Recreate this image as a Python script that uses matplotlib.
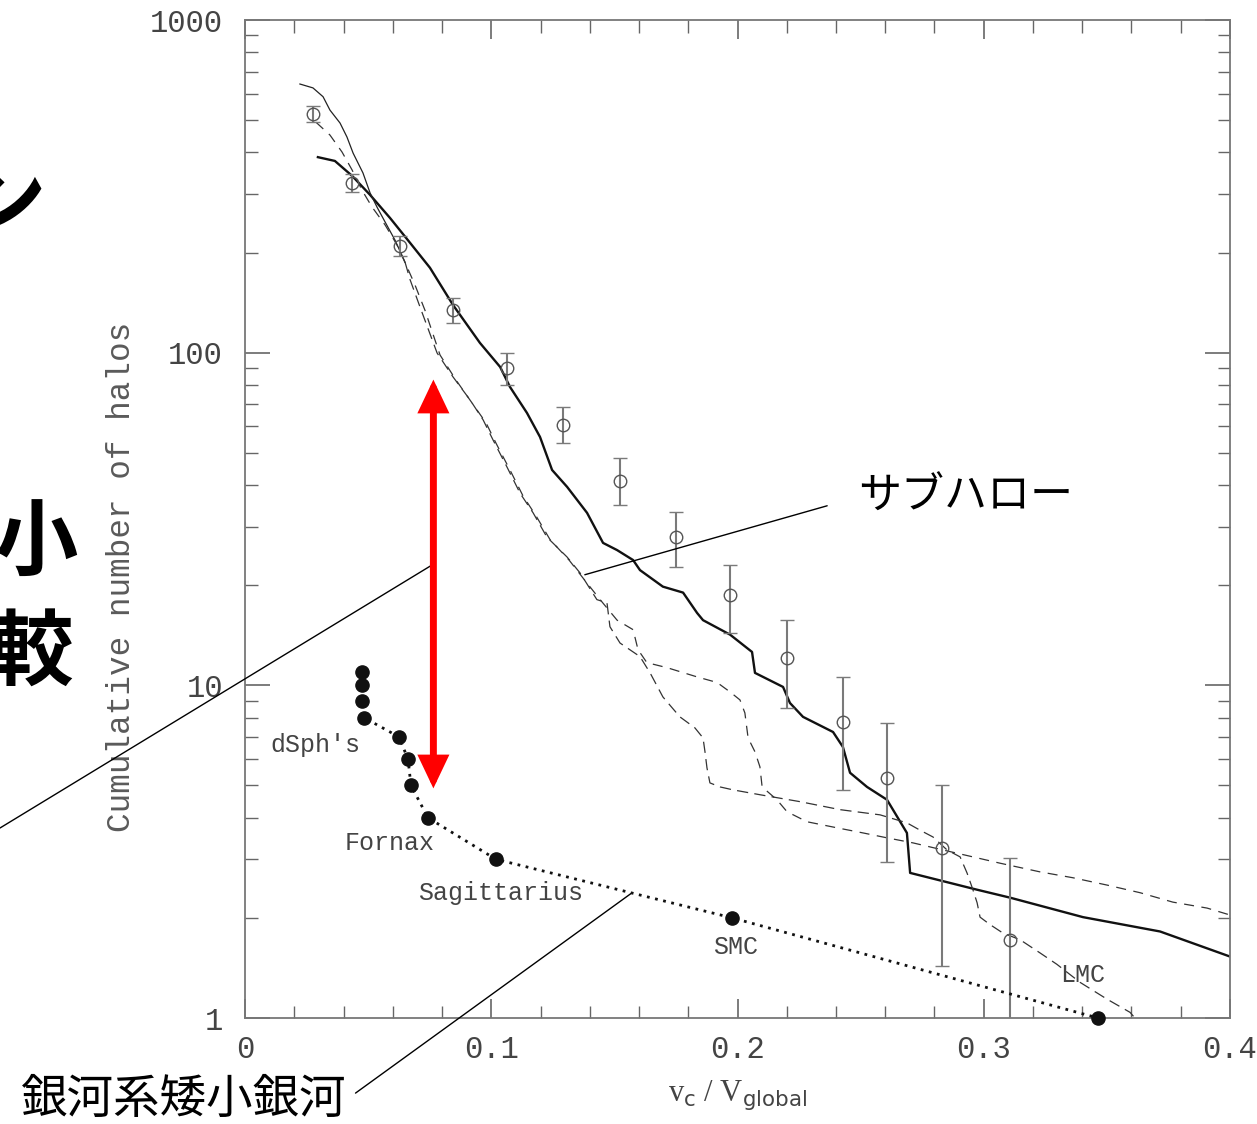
"""
Cumulative number of subhalos vs v_c / V_global, with Milky Way dwarf satellites.
"""

import matplotlib

matplotlib.use("Agg")
import matplotlib.pyplot as plt
from matplotlib.ticker import FixedLocator, MultipleLocator, NullFormatter

plt.rcParams["font.family"] = ["Noto Sans CJK JP", "DejaVu Sans"]

# ---- data ---------------------------------------------------------------
# thick solid curve
thick_x = [0.0296, 0.0365, 0.0435, 0.0508, 0.0589, 0.0670, 0.0751, 0.0845,
           0.0954, 0.1036, 0.1076, 0.1145, 0.1198, 0.1247, 0.1308, 0.1389,
           0.1454, 0.1511, 0.1576, 0.1604, 0.1697, 0.1779, 0.1836, 0.1860,
           0.1970, 0.2059, 0.2071, 0.2185, 0.2213, 0.2266, 0.2388, 0.2428,
           0.2457, 0.2526, 0.2607, 0.2688, 0.2701, 0.2973, 0.3107, 0.3403,
           0.3716, 0.4000]
thick_n = [387, 377, 340, 298, 254, 214, 180, 139,
           107, 90.6, 78.9, 65.9, 55.8, 44.4, 39.5, 33.0,
           26.8, 25.5, 23.8, 22.2, 19.8, 19.0, 16.5, 15.7,
           14.2, 12.6, 10.9, 9.89, 8.85, 8.04, 7.24, 6.53,
           5.46, 4.95, 4.53, 3.60, 2.73, 2.43, 2.30, 2.01,
           1.82, 1.53]

# curve A (thin on top, dashed below)
curve_a_x = [0.0223, 0.0276, 0.0317, 0.0345, 0.0386, 0.0414, 0.0439, 0.0479,
             0.0508, 0.0536, 0.0569, 0.0609, 0.0650, 0.0670, 0.0711, 0.0780,
             0.0845, 0.0914, 0.0967, 0.1007, 0.1064, 0.1117, 0.1170, 0.1226,
             0.1308, 0.1360, 0.1429, 0.1470, 0.1482, 0.1523, 0.1604, 0.1645,
             0.1697, 0.1766, 0.1827, 0.1860, 0.1868, 0.1876, 0.1888, 0.1929,
             0.1982, 0.2091, 0.2254, 0.2416, 0.2579, 0.2688, 0.2741, 0.2794,
             0.2851, 0.2904, 0.2932, 0.2956, 0.2973, 0.2985, 0.3025, 0.3078,
             0.3147, 0.3228, 0.3297, 0.3391, 0.3500, 0.3594, 0.3614]
curve_a_n = [642, 625, 588, 536, 490, 445, 398, 347,
             302, 274, 247, 218, 187, 166, 137, 99.8,
             84.5, 72.1, 62.8, 54.7, 45.3, 37.8, 33.0, 27.9,
             24.3, 21.8, 18.1, 17.7, 15.0, 13.4, 12.2, 10.9,
             9.23, 8.04, 7.45, 6.95, 6.31, 5.65, 5.09, 4.95,
             4.85, 4.69, 4.47, 4.23, 4.08, 3.86, 3.67, 3.50,
             3.20, 3.05, 2.73, 2.43, 2.22, 2.01, 1.91, 1.80,
             1.72, 1.57, 1.45, 1.28, 1.14, 1.04, 1.00]
curve_a_solid_upto = 13  # top part of curve A is drawn as a thin solid line

# curve B (dashed)
curve_b_x = [0.0288, 0.0345, 0.0394, 0.0435, 0.0475, 0.0516, 0.0569, 0.0617,
             0.0658, 0.0690, 0.0731, 0.0792, 0.0857, 0.0922, 0.0979, 0.1019,
             0.1076, 0.1129, 0.1182, 0.1239, 0.1316, 0.1373, 0.1442, 0.1511,
             0.1576, 0.1596, 0.1632, 0.1714, 0.1836, 0.1917, 0.1970, 0.2010,
             0.2030, 0.2043, 0.2071, 0.2091, 0.2100, 0.2160, 0.2201, 0.2282,
             0.2404, 0.2510, 0.2607, 0.2713, 0.2834, 0.2956, 0.3066, 0.3228,
             0.3362, 0.3500, 0.3635, 0.3768, 0.3907, 0.4000]
curve_b_n = [493, 451, 401, 354, 308, 274, 242, 211,
             181, 160, 134, 98.4, 82.7, 70.6, 61.5, 53.5,
             44.4, 37.1, 32.3, 27.4, 23.8, 21.0, 18.1, 15.7,
             14.7, 12.8, 11.7, 11.3, 10.6, 10.2, 9.55, 9.04,
             8.26, 6.95, 6.31, 5.69, 4.95, 4.53, 4.17, 3.89,
             3.73, 3.60, 3.48, 3.36, 3.20, 3.05, 2.92, 2.75,
             2.64, 2.51, 2.38, 2.23, 2.14, 2.04]

# open circles with error bars
circ_x = [0.0276, 0.0435, 0.0629, 0.0845, 0.1064, 0.1291, 0.1523,
          0.1750, 0.1970, 0.2201, 0.2428, 0.2607, 0.2830, 0.3107]
circ_n = [522, 324, 209, 134, 89.9, 60.6, 41.1,
          27.9, 18.7, 12.1, 7.76, 5.27, 3.24, 1.72]
circ_hi = [551, 344, 224, 146, 100, 68.7, 48.3,
           33.2, 23.0, 15.7, 10.6, 7.71, 5.01, 3.03]
circ_lo = [493, 304, 195, 123, 80.0, 53.5, 34.8,
           22.7, 14.4, 8.55, 4.85, 2.95, 1.43, 0.40]

# Milky Way satellites (cumulative count)
sat_x = [0.0475, 0.0475, 0.0475, 0.0483, 0.0625, 0.0662, 0.0674, 0.0743,
         0.1019, 0.1978, 0.3464]
sat_n = [11, 10, 9, 8, 7, 6, 5, 4, 3, 2, 1]
sat_names = ["dSph's", "Fornax", "Sagittarius", "SMC", "LMC"]
sat_name_pos = [(0.0102, 6.62), (0.0406, 3.36), (0.0703, 2.38), (0.1900, 1.63), (0.3310, 1.35)]

# red double arrow (range between subhaloes and dwarfs)
arrow_x = 0.0765
arrow_n = (4.9, 83)

YTICKS = [1, 10, 100, 1000]
YTICK_LABELS = ["1", "10", "100", "1000"]
XTICKS = [0, 0.1, 0.2, 0.3, 0.4]
XTICK_LABELS = ["0", "0.1", "0.2", "0.3", "0.4"]

# ---- figure --------------------------------------------------------------
W, H, DPI = 1257, 1124, 100
fig = plt.figure(figsize=(W / DPI, H / DPI), dpi=DPI)
ax = fig.add_axes([245 / W, 1 - 1018 / H, 985 / W, 998 / H])

ax.set_yscale("log")
ax.set_xlim(0, 0.4)
ax.set_ylim(1, 1000)

ink = "#111111"

ax.plot(thick_x, thick_n, color=ink, lw=1.7, solid_joinstyle="round")
ax.plot(curve_a_x[:curve_a_solid_upto], curve_a_n[:curve_a_solid_upto],
        color="#222222", lw=0.9)
ax.plot(curve_a_x[curve_a_solid_upto - 1:], curve_a_n[curve_a_solid_upto - 1:],
        color="#333333", lw=0.9, dashes=(9, 5))
ax.plot(curve_b_x, curve_b_n, color="#333333", lw=0.9, dashes=(8, 6))

yerr = [[n - lo for n, lo in zip(circ_n, circ_lo)],
        [hi - n for n, hi in zip(circ_n, circ_hi)]]
ax.errorbar(circ_x, circ_n, yerr=yerr, fmt="o", ms=9, mfc="none", mec="#555555",
            mew=1.0, ecolor="#7a7a7a", elinewidth=1.5, capsize=5, capthick=1.2,
            zorder=3)

ax.plot(sat_x, sat_n, color=ink, lw=2.0, linestyle=(0, (1, 2)), zorder=4)
ax.plot(sat_x, sat_n, "o", color=ink, ms=9.5, zorder=5, clip_on=False)

for name, (tx, ty) in zip(sat_names, sat_name_pos):
    ax.text(tx, ty, name, family="Liberation Mono", fontsize=18, color="#444444",
            ha="left", va="center")

# red double arrow
ax.annotate("", xy=(arrow_x, arrow_n[1]), xytext=(arrow_x, arrow_n[0]),
            arrowprops=dict(arrowstyle="<|-|>,head_length=0.8,head_width=0.38",
                            mutation_scale=20, lw=5, color="#ff0000",
                            shrinkA=0, shrinkB=0, joinstyle="miter"),
            zorder=6)

# leader lines and Japanese labels
ax.annotate("", xy=(0.0, 1 - 828 / H), xycoords="figure fraction",
            xytext=(0.0772, 23.3), textcoords="data",
            arrowprops=dict(arrowstyle="-", color="black", lw=1.0,
                            shrinkA=0, shrinkB=0), annotation_clip=False)
ax.annotate("サブハロー", xy=(0.138, 21.5), xycoords="data",
            xytext=(858 / W, 1 - 497 / H), textcoords="figure fraction",
            fontsize=31, ha="left", va="center", color="black",
            arrowprops=dict(arrowstyle="-", color="black", lw=1.0,
                            relpos=(0, 0.5), shrinkA=21, shrinkB=0))
ax.annotate("銀河系矮小銀河", xy=(0.1572, 2.38), xycoords="data",
            xytext=(346 / W, 1 - 1100 / H), textcoords="figure fraction",
            fontsize=33.5, ha="right", va="center", color="black",
            arrowprops=dict(arrowstyle="-", color="black", lw=1.0,
                            relpos=(1, 0.5), shrinkA=6, shrinkB=0),
            annotation_clip=False)

# slide text cut off at the left edge (as in the original slide)
for s, xx, yy in [("ン", 46, 203), ("小", 78, 545), ("比較", 74, 655)]:
    fig.text(xx / W, 1 - yy / H, s, fontsize=60,
             fontweight="bold", ha="right", va="center", color="black")

# axes styling
for sp in ax.spines.values():
    sp.set_color("#777777")
    sp.set_linewidth(1.3)

ax.yaxis.set_major_locator(FixedLocator(YTICKS))
ax.set_yticklabels(YTICK_LABELS)
ax.yaxis.set_minor_locator(FixedLocator(
    [m * d for d in (1, 10, 100) for m in range(2, 10)]))
ax.yaxis.set_minor_formatter(NullFormatter())
ax.xaxis.set_major_locator(FixedLocator(XTICKS))
ax.set_xticklabels(XTICK_LABELS)
ax.xaxis.set_minor_locator(MultipleLocator(0.02))

ax.tick_params(which="both", direction="in", top=True, right=True, colors="#666666",
               labelcolor="#444444")
ax.tick_params(which="major", axis="y", length=18, width=1.2, pad=16)
ax.tick_params(which="minor", axis="y", length=9, width=1.0)
ax.tick_params(which="major", axis="x", length=14, width=1.2, pad=12)
ax.tick_params(which="minor", axis="x", length=9, width=1.0)
for lab in ax.get_xticklabels() + ax.get_yticklabels():
    lab.set_family("Liberation Mono")
    lab.set_fontsize(22)

ax.set_ylabel("Cumulative number of halos", family="Liberation Mono",
              fontsize=23.5, color="#5a5a5a")
ax.yaxis.set_label_coords(-0.110, 0.442)
ax.set_xlabel(r"v$_\mathrm{c}$ / V$_\mathrm{global}$", family="Liberation Serif",
              fontsize=22, color="#444444", labelpad=10)

fig.savefig("out.png", dpi=DPI)
